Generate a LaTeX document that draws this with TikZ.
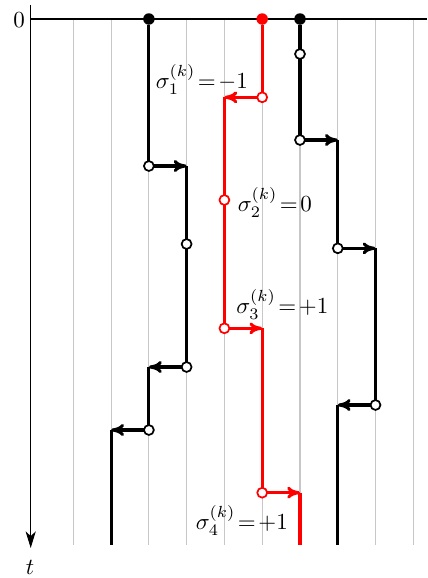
\documentclass[tikz,border=0pt]{standalone}
\usetikzlibrary{arrows.meta}
\begin{document}
\begin{tikzpicture}[x=0.4348pt,y=-0.4348pt,
  gridline/.style={line width=0.5pt, black!22},
  axisline/.style={line width=0.5pt, black},
  worldline/.style={line width=1.35pt, black},
  redline/.style={line width=1.35pt, red},
  hop/.style={-{Computer Modern Rightarrow[length=5.6pt,width=5.2pt]}},
  startdot/.style={circle, fill=#1, inner sep=0pt, minimum size=5pt, outer sep=0pt},
  opendot/.style={circle, draw=#1, fill=white, line width=0.75pt, inner sep=0pt, minimum size=4.3pt, outer sep=0pt},
  lbl/.style={inner sep=0pt, anchor=base west}
]
\useasboundingbox (0,0) rectangle (427,578);
% grid
\foreach \k in {0,...,9}{
  \draw[gridline] (73.3+37.78*\k,19) -- (73.3+37.78*\k,544.5);
}
% axes
\coordinate (axtop) at (30.7,5);
\coordinate (axbot) at (30.7,548);
\coordinate (hl) at (30.7,19);
\coordinate (hr) at (427,19);
\draw[axisline] (hl) -- (hr);
\draw[axisline,-{Stealth[length=7.2pt,width=4.4pt,inset=2pt]}] (axtop) -- (axbot);
\node[anchor=east, inner sep=0pt] (zero) at (25.3,20) {$0$};
\node[inner sep=0pt] (tlab) at (30,567.5) {$t$};

% particle A (black, left)
\node[startdot=black] (a0) at (148.9,19) {};
\node[opendot=black] (a1) at (148.9,166) {};
\coordinate (a1r) at (186.6,166);
\node[opendot=black] (a2) at (186.6,244) {};
\node[opendot=black] (a3) at (186.6,367) {};
\coordinate (a3l) at (148.9,367);
\node[opendot=black] (a4) at (148.9,430) {};
\coordinate (a4l) at (111.1,430);
\coordinate (aend) at (111.1,544.5);
\draw[worldline] (a0) -- (a1);
\draw[worldline,hop] (a1) -- (a1r);
\draw[worldline] (a1r) -- (a2);
\draw[worldline] (a2) -- (a3);
\draw[worldline,hop] (a3) -- (a3l);
\draw[worldline] (a3l) -- (a4);
\draw[worldline,hop] (a4) -- (a4l);
\draw[worldline] (a4l) -- (aend);

% particle B (red)
\node[startdot=red] (b0) at (262.2,19) {};
\node[opendot=red] (b1) at (262.2,97.3) {};
\coordinate (b1l) at (224.4,97.3);
\node[opendot=red] (b2) at (224.4,200) {};
\node[opendot=red] (b3) at (224.4,328.3) {};
\coordinate (b3r) at (262.2,328.3);
\node[opendot=red] (b4) at (262.2,492.7) {};
\coordinate (b4r) at (300,492.7);
\coordinate (bend) at (300,544.5);
\draw[redline] (b0) -- (b1);
\draw[redline,hop] (b1) -- (b1l);
\draw[redline] (b1l) -- (b2);
\draw[redline] (b2) -- (b3);
\draw[redline,hop] (b3) -- (b3r);
\draw[redline] (b3r) -- (b4);
\draw[redline,hop] (b4) -- (b4r);
\draw[redline] (b4r) -- (bend);

% particle C (black, right)
\node[startdot=black] (c0) at (300,19) {};
\node[opendot=black] (c1) at (300,54) {};
\node[opendot=black] (c2) at (300,140) {};
\coordinate (c2r) at (337.8,140);
\node[opendot=black] (c3) at (337.8,248.3) {};
\coordinate (c3r) at (375.5,248.3);
\node[opendot=black] (c4) at (375.5,405) {};
\coordinate (c4l) at (337.8,405);
\coordinate (cend) at (337.8,544.5);
\draw[worldline] (c0) -- (c1);
\draw[worldline] (c1) -- (c2);
\draw[worldline,hop] (c2) -- (c2r);
\draw[worldline] (c2r) -- (c3);
\draw[worldline,hop] (c3) -- (c3r);
\draw[worldline] (c3r) -- (c4);
\draw[worldline,hop] (c4) -- (c4l);
\draw[worldline] (c4l) -- (cend);

% labels
\node[lbl] (s1) at (155.3,88) {$\sigma_1^{(k)}\!=\!-1$};
\node[lbl] (s2) at (237.3,211) {$\sigma_2^{(k)}\!=\!0$};
\node[lbl] (s3) at (235.8,313.5) {$\sigma_3^{(k)}\!=\!+1$};
\node[lbl] (s4) at (195.3,529.8) {$\sigma_4^{(k)}\!=\!+1$};
\end{tikzpicture}
\end{document}
